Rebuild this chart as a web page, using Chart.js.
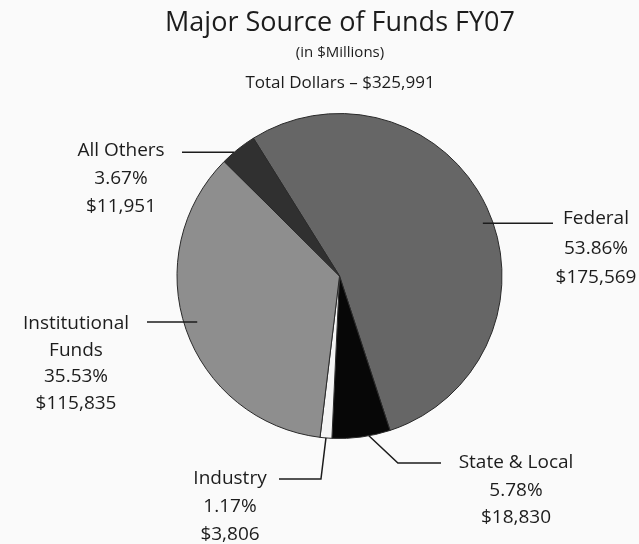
<!DOCTYPE html>
<html>
<head>
<meta charset="utf-8">
<script src="https://cdn.jsdelivr.net/npm/chart.js@4"></script>
<style>
  html, body { margin: 0; padding: 0; background: #fafafa; }
  #wrap { width: 639px; height: 544px; }
</style>
</head>
<body>
<div id="wrap"><canvas id="chart" width="639" height="544"></canvas></div>
<script>
const categories = ["Federal", "State & Local", "Industry", "Institutional Funds", "All Others"];
const amounts = [175569, 18830, 3806, 115835, 11951];
const percents = ["53.86%", "5.78%", "1.17%", "35.53%", "3.67%"];
const sliceColors = ["#666666", "#070707", "#f4f4f4", "#8e8e8e", "#303030"];
const totalDollars = "$325,991";

const FONT = "'Open Sans', sans-serif";
const INK = "#1c1c1c";
const money = v => "$" + v.toLocaleString("en-US");

// where each label sits and how its leader line runs
const labelLayout = [
  { lines: ["Federal"], x: 596, y: 219, gap: 29.5, frac: 0.525, r: 0.94, path: (a) => [[553, a.y]] },
  { lines: ["State & Local"], x: 516, y: 463, gap: 27.5, frac: 0.37, r: 1.0, path: (a) => [[a.x + 29, 463], [441, 463]] },
  { lines: ["Industry"], x: 230, y: 479, gap: 28, frac: 0.5, r: 1.0, path: (a) => [[a.x - 5, 479], [279, 479]] },
  { lines: ["Institutional", "Funds"], x: 76, y: 324, gap: 26.5, frac: 0.51, r: 0.92, path: (a) => [[147, a.y]] },
  { lines: ["All Others"], x: 121, y: 151, gap: 28, frac: 0.36, r: 1.0, path: (a) => [[182, a.y]] }
];

const labelPlugin = {
  id: "labels",
  beforeDraw(chart) {
    const c = chart.ctx;
    c.save();
    c.fillStyle = "#fafafa";
    c.fillRect(0, 0, chart.width, chart.height);
    c.restore();
  },
  afterDraw(chart) {
    const c = chart.ctx;
    const arcs = chart.getDatasetMeta(0).data;
    c.save();
    c.fillStyle = INK;
    c.textAlign = "center";
    c.textBaseline = "middle";
    c.font = "27px " + FONT;
    c.fillText("Major Source of Funds FY07", 340, 23);
    c.font = "15px " + FONT;
    c.fillText("(in $Millions)", 340, 53);
    c.font = "17px " + FONT;
    c.fillText("Total Dollars \u2013 " + totalDollars, 340, 83);

    c.strokeStyle = INK;
    c.lineWidth = 1.5;
    arcs.forEach((arc, i) => {
      const L = labelLayout[i];
      const p = arc.getProps(["x", "y", "startAngle", "endAngle", "outerRadius"], true);
      const ang = p.startAngle + L.frac * (p.endAngle - p.startAngle);
      const a = { x: p.x + Math.cos(ang) * p.outerRadius * L.r, y: p.y + Math.sin(ang) * p.outerRadius * L.r };
      c.beginPath();
      c.moveTo(a.x, a.y);
      L.path(a).forEach(pt => c.lineTo(pt[0], pt[1]));
      c.stroke();

      c.font = "19px " + FONT;
      const rows = L.lines.concat([percents[i], money(amounts[i])]);
      rows.forEach((t, k) => c.fillText(t, L.x, L.y + k * L.gap));
    });
    c.restore();
  }
};

new Chart(document.getElementById("chart"), {
  type: "pie",
  data: {
    labels: categories,
    datasets: [{
      data: amounts,
      backgroundColor: sliceColors,
      borderColor: "#2a2a2a",
      borderWidth: 1
    }]
  },
  options: {
    responsive: false,
    animation: false,
    rotation: -32,
    layout: { padding: { left: 176, right: 136, top: 113, bottom: 105 } },
    plugins: { legend: { display: false }, tooltip: { enabled: false } }
  },
  plugins: [labelPlugin]
});
</script>
</body>
</html>
